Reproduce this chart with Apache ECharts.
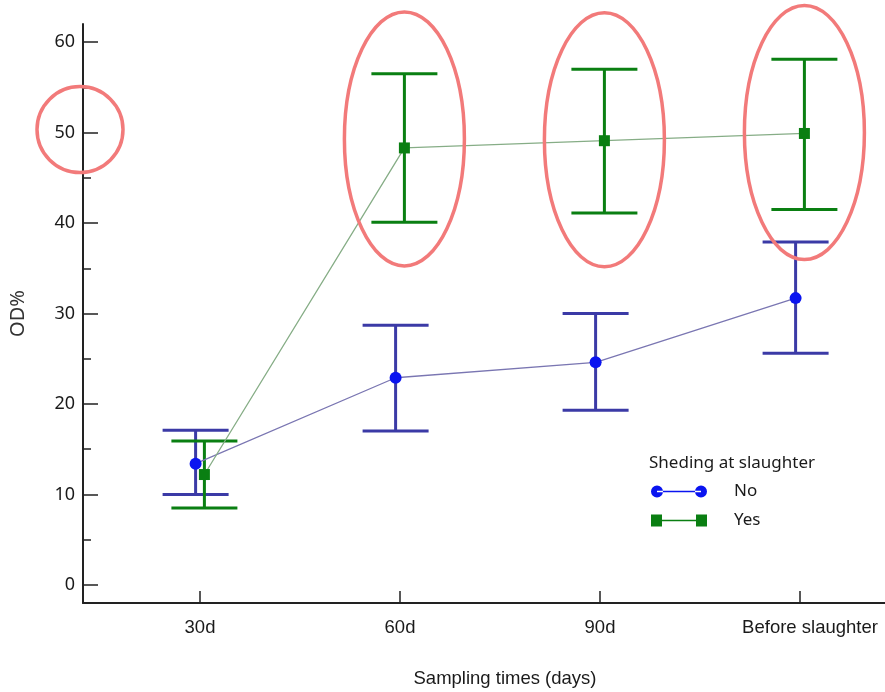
<!DOCTYPE html>
<html>
<head>
<meta charset="utf-8">
<script src="https://cdn.jsdelivr.net/npm/echarts@6/dist/echarts.min.js"></script>
<style>
  html, body { margin: 0; padding: 0; background: #fff; }
  #chart { width: 885px; height: 692px; }
</style>
</head>
<body>
<div id="chart"></div>
<script>
var categories = ['30d', '60d', '90d', 'Before slaughter'];
var yTicks = [0, 10, 20, 30, 40, 50, 60];
var yMinorTicks = [5, 15, 25, 35, 45, 55];

// Shedding = No
var noMean = [13.4, 22.9, 24.6, 31.7];
var noLow = [10.0, 17.0, 19.3, 25.6];
var noHigh = [17.1, 28.7, 30.0, 37.9];
// Shedding = Yes
var yesMean = [12.2, 48.3, 49.1, 49.9];
var yesLow = [8.5, 40.1, 41.1, 41.5];
var yesHigh = [15.9, 56.5, 57.0, 58.1];

// highlighted spots: [x position, y value]
var rings = [[2, 49.3], [3, 49.2], [4, 50.0]];

var blueBar = '#3b3aa6';
var greenBar = '#0a7f12';
var dodge = 0.022; // horizontal shift between the two groups (x units)

var xFont = '"Liberation Sans", Arial, sans-serif';
var yFont = '"Noto Sans", "DejaVu Sans", sans-serif';

function pointData(means, shift) {
  return means.map(function (v, i) { return [i + 1 + shift, v]; });
}
function barData(lows, highs, shift) {
  return lows.map(function (v, i) { return [i + 1 + shift, v, highs[i]]; });
}

function errorBars(color) {
  return function (params, api) {
    var lo = api.coord([api.value(0), api.value(1)]);
    var hi = api.coord([api.value(0), api.value(2)]);
    var half = 33;
    var st = { stroke: color, lineWidth: 3 };
    return {
      type: 'group',
      children: [
        { type: 'line', shape: { x1: lo[0], y1: lo[1], x2: hi[0], y2: hi[1] }, style: st },
        { type: 'line', shape: { x1: lo[0] - half, y1: lo[1], x2: lo[0] + half, y2: lo[1] }, style: st },
        { type: 'line', shape: { x1: hi[0] - half, y1: hi[1], x2: hi[0] + half, y2: hi[1] }, style: st }
      ]
    };
  };
}

var myChart = echarts.init(document.getElementById('chart'));
var option = {
  backgroundColor: '#fff',
  animation: false,
  grid: { left: 83, right: 0, top: 24, bottom: 89, outerBoundsMode: 'none', containLabel: false },
  title: {
    text: 'Sheding at slaughter',
    left: 644, top: 450,
    textStyle: { fontFamily: yFont, fontSize: 17, fontWeight: 'normal', color: '#1a1a1a' }
  },
  legend: {
    orient: 'vertical',
    left: 646, top: 478,
    itemWidth: 56, itemHeight: 12, itemGap: 12,
    textStyle: { fontFamily: yFont, fontSize: 17, color: '#1a1a1a', padding: [0, 0, 0, 22] },
    data: [
      { name: 'No', icon: 'path://M0,6a6,6 0 1,0 12,0a6,6 0 1,0 -12,0z M44,6a6,6 0 1,0 12,0a6,6 0 1,0 -12,0z M6,5.3h44v1.4h-44z' },
      { name: 'Yes', icon: 'path://M0,0h11v12h-11z M45,0h11v12h-11z M6,5.3h44v1.4h-44z' }
    ]
  },
  xAxis: {
    type: 'value',
    min: 0.415, max: 4.425,
    name: 'Sampling times (days)',
    nameLocation: 'middle',
    nameGap: 66,
    nameTextStyle: { fontFamily: xFont, fontSize: 18.5, color: '#1a1a1a', padding: [0, 0, 0, 42] },
    splitLine: { show: false },
    axisLine: { onZero: false, lineStyle: { color: '#222', width: 2 } },
    axisTick: { inside: true, length: 12, customValues: [1, 2, 3, 4], lineStyle: { color: '#222', width: 1.5 } },
    axisLabel: {
      customValues: [1, 2, 3, 4],
      margin: 15,
      fontFamily: xFont, fontSize: 18.5, color: '#1a1a1a',
      formatter: function (v) {
        var i = Math.round(v) - 1;
        return i === categories.length - 1 ? '{last|' + categories[i] + '}' : categories[i];
      },
      rich: { last: { fontFamily: xFont, fontSize: 18.5, color: '#1a1a1a', padding: [0, 0, 0, 20] } }
    }
  },
  yAxis: [{
    type: 'value',
    min: -2, max: 62,
    name: 'OD%',
    nameLocation: 'middle',
    nameGap: 55,
    nameTextStyle: { fontFamily: yFont, fontSize: 20, color: '#333' },
    splitLine: { show: false },
    axisLine: { onZero: false, lineStyle: { color: '#222', width: 2 } },
    axisTick: { inside: true, length: 15, customValues: yTicks, lineStyle: { color: '#222', width: 1.5 } },
    axisLabel: { customValues: yTicks, margin: 8, fontFamily: yFont, fontSize: 18, color: '#1a1a1a' }
  }, {
    type: 'value',
    position: 'left',
    min: -2, max: 62,
    splitLine: { show: false },
    axisLine: { show: false, onZero: false },
    axisTick: { inside: true, length: 8, customValues: yMinorTicks, lineStyle: { color: '#222', width: 1.5 } },
    axisLabel: { show: false }
  }],
  series: [{
    name: 'No',
    type: 'line',
    data: pointData(noMean, -dodge),
    symbol: 'circle', symbolSize: 12,
    itemStyle: { color: '#0a14f0' },
    lineStyle: { color: '#7a76b2', width: 1.3 },
    z: 4
  }, {
    name: 'Yes',
    type: 'line',
    data: pointData(yesMean, dodge),
    symbol: 'rect', symbolSize: 11,
    itemStyle: { color: '#0a7f12' },
    lineStyle: { color: '#86ad86', width: 1.3 },
    z: 4
  }, {
    name: 'No bars',
    type: 'custom',
    renderItem: errorBars(blueBar),
    data: barData(noLow, noHigh, -dodge),
    z: 2
  }, {
    name: 'Yes bars',
    type: 'custom',
    renderItem: errorBars(greenBar),
    data: barData(yesLow, yesHigh, dodge),
    z: 3
  }]
};
myChart.setOption(option);

// red annotation rings, placed from the axis scales
var ringStyle = { fill: 'none', stroke: '#f27a7a', lineWidth: 3.5 };
var shapes = rings.map(function (r) {
  var c = myChart.convertToPixel({ xAxisIndex: 0, yAxisIndex: 0 }, [r[0] + dodge, r[1]]);
  return { type: 'ellipse', shape: { cx: c[0], cy: c[1], rx: 60, ry: 127 }, style: ringStyle, z: 10 };
});
var lab = myChart.convertToPixel({ xAxisIndex: 0, yAxisIndex: 0 }, [0.415, 50]);
shapes.push({ type: 'ellipse', shape: { cx: lab[0] - 3, cy: lab[1] - 3, rx: 43, ry: 43 }, style: ringStyle, z: 10 });
myChart.setOption({ graphic: shapes });
</script>
</body>
</html>
